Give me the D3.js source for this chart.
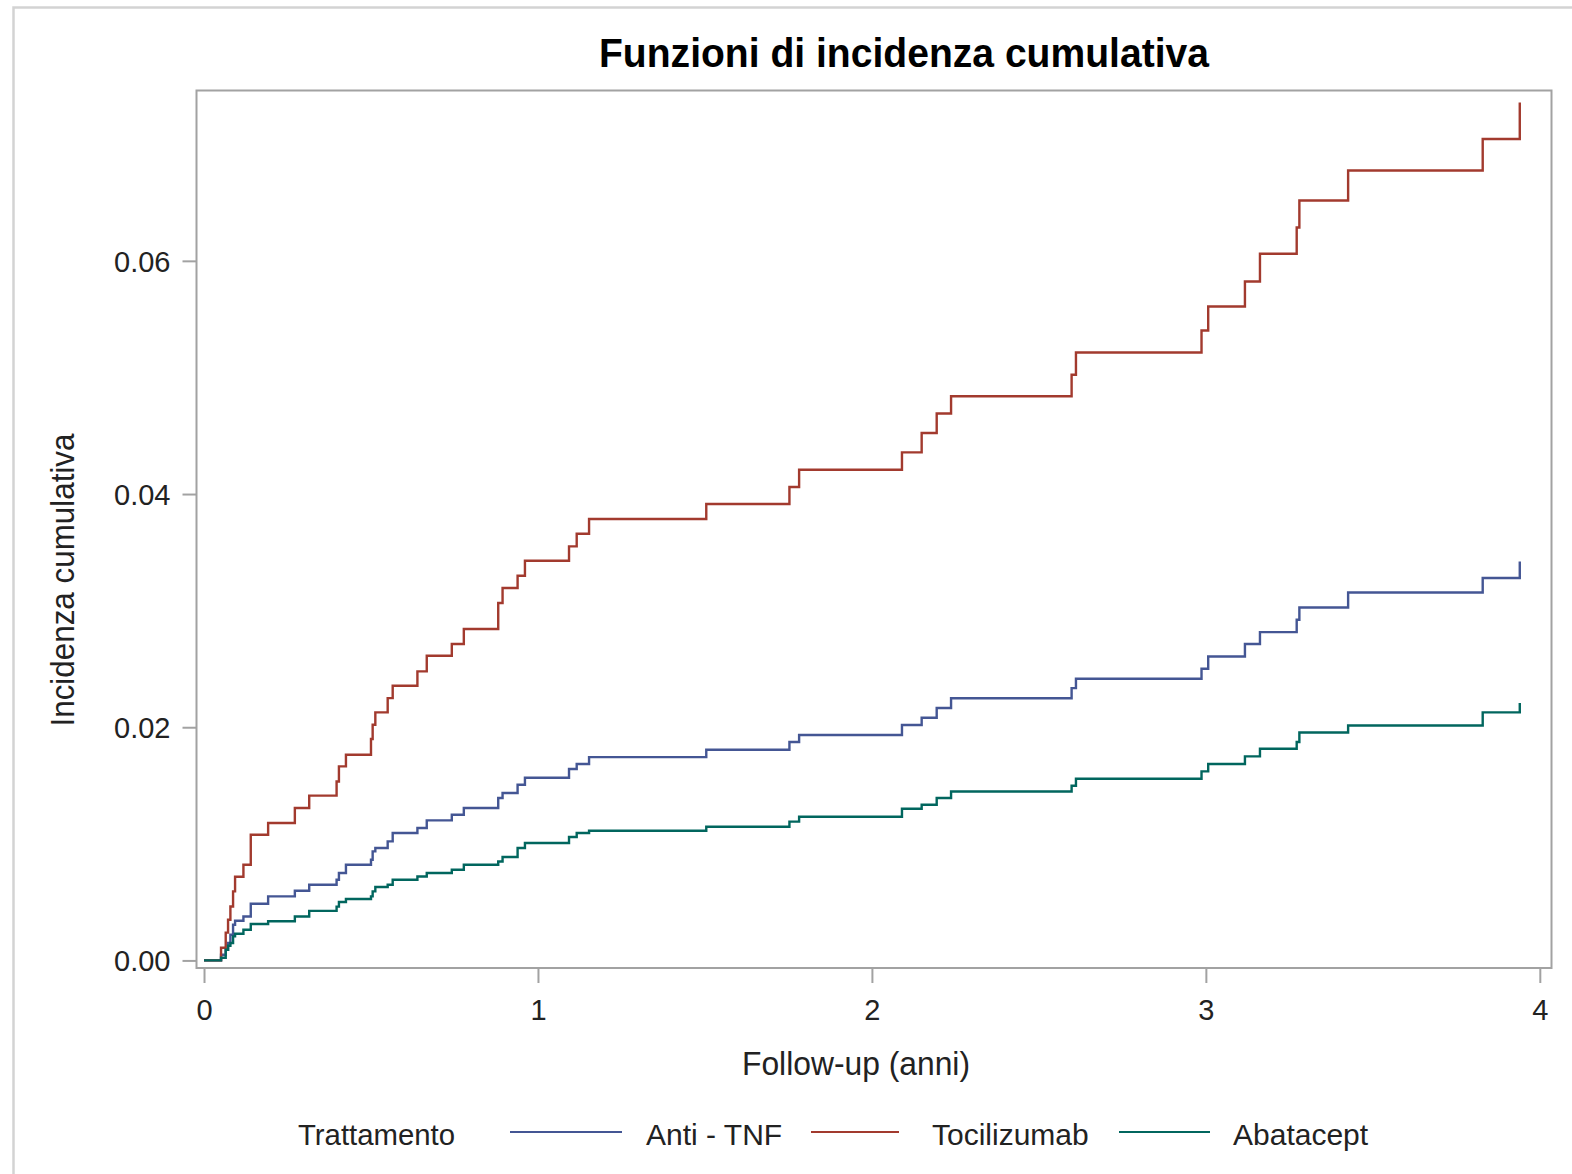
<!DOCTYPE html>
<html>
<head>
<meta charset="utf-8">
<script src="https://cdn.jsdelivr.net/npm/d3@7"></script>
<style>
  html, body { margin: 0; padding: 0; background: #fff; }
  svg { display: block; font-family: "Liberation Sans", Arial, sans-serif; }
</style>
</head>
<body>
<div id="chart"></div>
<script>
// event times (years), shared by the three groups
var times = [0.051, 0.065, 0.072, 0.079, 0.087, 0.093, 0.118, 0.140, 0.192, 0.272,
  0.315, 0.397, 0.404, 0.425, 0.500, 0.505, 0.513, 0.550, 0.565, 0.639,
  0.667, 0.742, 0.778, 0.881, 0.894, 0.939, 0.961, 1.093, 1.116, 1.153,
  1.504, 1.753, 1.782, 2.090, 2.149, 2.194, 2.237, 2.598, 2.611, 2.987,
  3.007, 3.117, 3.162, 3.272, 3.280, 3.426, 3.829, 3.940];

var antiTNF = [0.00049, 0.00092, 0.00149, 0.00220, 0.00306, 0.00340, 0.00377, 0.00486, 0.00549, 0.00598,
  0.00649, 0.00692, 0.00750, 0.00821, 0.00864, 0.00935, 0.00964, 0.01021, 0.01093, 0.01136,
  0.01201, 0.01250, 0.01307, 0.01393, 0.01436, 0.01507, 0.01567, 0.01642, 0.01684, 0.01744,
  0.01807, 0.01873, 0.01933, 0.02019, 0.02081, 0.02165, 0.02249, 0.02335, 0.02416, 0.02502,
  0.02607, 0.02714, 0.02816, 0.02922, 0.03027, 0.03156, 0.03280, 0.03422];

var tocilizumab = [0.00109, 0.00238, 0.00349, 0.00463, 0.00592, 0.00718, 0.00821, 0.01078, 0.01178, 0.01307,
  0.01413, 0.01535, 0.01664, 0.01764, 0.01899, 0.02021, 0.02127, 0.02250, 0.02356, 0.02479,
  0.02613, 0.02714, 0.02842, 0.03065, 0.03194, 0.03299, 0.03428, 0.03551, 0.03660, 0.03786,
  0.03914, 0.04060, 0.04208, 0.04357, 0.04523, 0.04691, 0.04839, 0.05023, 0.05214, 0.05403,
  0.05609, 0.05823, 0.06061, 0.06286, 0.06518, 0.06775, 0.07045, 0.07358];

var abatacept = [0.00023, 0.00092, 0.00126, 0.00149, 0.00206, 0.00229, 0.00263, 0.00312, 0.00336, 0.00377,
  0.00425, 0.00461, 0.00501, 0.00527, 0.00549, 0.00592, 0.00630, 0.00649, 0.00692, 0.00720,
  0.00750, 0.00778, 0.00821, 0.00849, 0.00887, 0.00964, 0.01007, 0.01058, 0.01093, 0.01112,
  0.01147, 0.01190, 0.01232, 0.01301, 0.01335, 0.01393, 0.01449, 0.01498, 0.01558, 0.01621,
  0.01684, 0.01750, 0.01816, 0.01873, 0.01955, 0.02015, 0.02127, 0.02208];

var groupNames = ["Anti - TNF", "Tocilizumab", "Abatacept"];
var groupColors = ["#445694", "#A23A2E", "#01665E"];
var xTicks = [0, 1, 2, 3, 4];
var yTicks = [0, 0.02, 0.04, 0.06];

var W = 1572, H = 1174;
var box = {left: 196.5, right: 1551.5, top: 90.5, bottom: 968};

var svg = d3.select("#chart").append("svg")
  .attr("width", W)
  .attr("height", H);

// outer frame
svg.append("path")
  .attr("d", "M13.5," + H + "V7.5H" + W)
  .attr("fill", "none")
  .attr("stroke", "#d3d3d3")
  .attr("stroke-width", 2.5);

var x = d3.scaleLinear().domain([-0.0225, 4.035]).range([box.left, box.right]);
var y = d3.scaleLinear().domain([-0.00065, 0.07461]).range([box.bottom, box.top]);

// plot box
svg.append("rect")
  .attr("x", box.left)
  .attr("y", box.top)
  .attr("width", box.right - box.left)
  .attr("height", box.bottom - box.top)
  .attr("fill", "none")
  .attr("stroke", "#a2a2a2")
  .attr("stroke-width", 2);

var yAxis = svg.append("g")
  .attr("transform", "translate(" + box.left + ",0)")
  .call(d3.axisLeft(y).tickValues(yTicks).tickFormat(d3.format(".2f")).tickSize(14).tickPadding(12));

var xAxis = svg.append("g")
  .attr("transform", "translate(0," + box.bottom + ")")
  .call(d3.axisBottom(x).tickValues(xTicks).tickFormat(d3.format("d")).tickSize(15).tickPadding(16));

[yAxis, xAxis].forEach(function(g){
  g.select(".domain").remove();
  g.selectAll(".tick line").attr("stroke", "#a2a2a2").attr("stroke-width", 2);
  g.selectAll(".tick text")
    .attr("fill", "#222")
    .style("font-family", "\"Liberation Sans\", Arial, sans-serif")
    .style("font-size", "29px");
});
yAxis.selectAll(".tick text").attr("dy", "0.36em");

// curves
var series = [antiTNF, tocilizumab, abatacept];
var line = d3.line()
  .x(function(d){ return x(d[0]); })
  .y(function(d){ return y(d[1]); })
  .curve(d3.curveStepAfter);

series.forEach(function(vals, i){
  var pts = [[0, 0]].concat(times.map(function(t, j){ return [t, vals[j]]; }));
  svg.append("path")
    .datum(pts)
    .attr("d", line)
    .attr("fill", "none")
    .attr("stroke", groupColors[i])
    .attr("stroke-width", 2.4);
});

// title and axis labels
svg.append("text")
  .attr("x", 904)
  .attr("y", 67)
  .attr("text-anchor", "middle")
  .attr("textLength", 610)
  .attr("lengthAdjust", "spacingAndGlyphs")
  .style("font-size", "40px")
  .style("font-weight", "bold")
  .attr("fill", "#000")
  .text("Funzioni di incidenza cumulativa");

svg.append("text")
  .attr("transform", "translate(74,580) rotate(-90)")
  .attr("text-anchor", "middle")
  .attr("textLength", 293)
  .attr("lengthAdjust", "spacingAndGlyphs")
  .style("font-size", "33px")
  .attr("fill", "#222")
  .text("Incidenza cumulativa");

svg.append("text")
  .attr("x", 856)
  .attr("y", 1075)
  .attr("text-anchor", "middle")
  .attr("textLength", 228)
  .attr("lengthAdjust", "spacingAndGlyphs")
  .style("font-size", "33px")
  .attr("fill", "#222")
  .text("Follow-up  (anni)");

// legend
var legendY = 1134;
var legendSwatches = [[510, 622], [811, 899], [1119, 1210]];
var legendLabelX = [646, 932, 1233];

svg.append("text")
  .attr("x", 298)
  .attr("y", legendY)
  .attr("dy", "0.36em")
  .attr("textLength", 157)
  .attr("lengthAdjust", "spacingAndGlyphs")
  .style("font-size", "30px")
  .attr("fill", "#222")
  .text("Trattamento");

groupNames.forEach(function(name, i){
  svg.append("line")
    .attr("x1", legendSwatches[i][0])
    .attr("x2", legendSwatches[i][1])
    .attr("y1", legendY - 2)
    .attr("y2", legendY - 2)
    .attr("stroke", groupColors[i])
    .attr("stroke-width", 2.2);
  svg.append("text")
    .attr("x", legendLabelX[i])
    .attr("y", legendY)
    .attr("dy", "0.36em")
    .style("font-size", "30px")
    .attr("fill", "#222")
    .text(name);
});
</script>
</body>
</html>
